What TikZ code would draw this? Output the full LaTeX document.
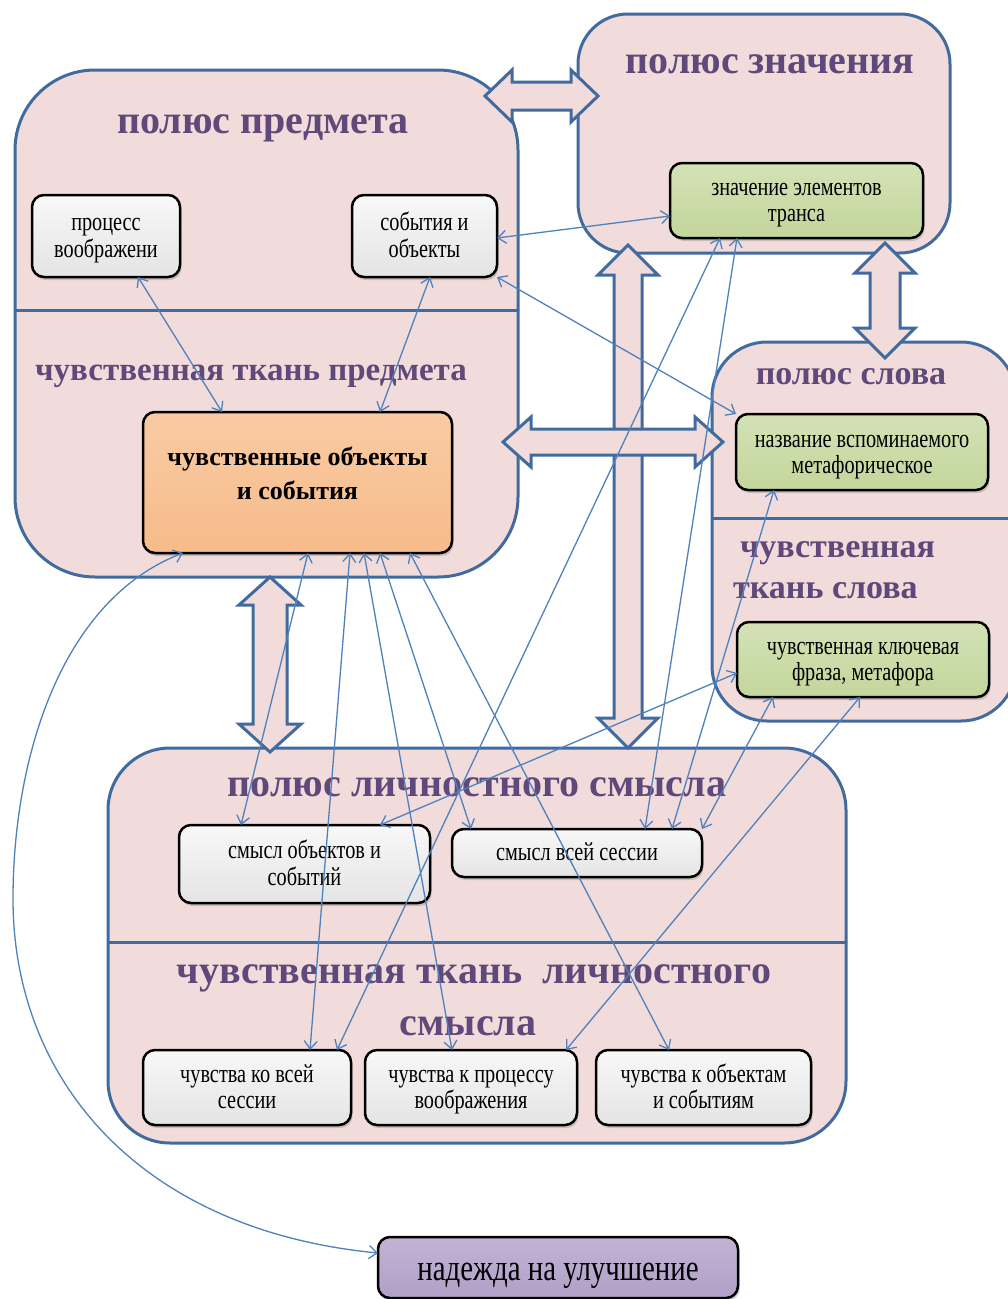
\documentclass[tikz,border=0pt]{standalone}
\usepackage{fontspec}
\setmainfont{Liberation Serif}
\newfontfamily\boxfont[FakeStretch=0.78]{Liberation Serif}
\usetikzlibrary{arrows.meta,shadows,calc}

\definecolor{panelfill}{HTML}{F2DCDB}
\definecolor{panelline}{HTML}{416B9E}
\definecolor{titlecol}{HTML}{5F497A}
\definecolor{linkcol}{HTML}{4F81BD}
\definecolor{greentop}{HTML}{D3E2B6}
\definecolor{greenbot}{HTML}{C3D69B}
\definecolor{orangetop}{HTML}{F9CBA3}
\definecolor{orangebot}{HTML}{F6BB8A}
\definecolor{purpletop}{HTML}{C2B3D4}
\definecolor{purplebot}{HTML}{B1A0C7}
\definecolor{greytop}{HTML}{F8F8F8}
\definecolor{greybot}{HTML}{E4E4E4}

\newcommand\vdblarrow[6]{\draw[blockarrow] (#1,#2) -- ({#1+#5},{#2+#4}) -- ({#1+#6},{#2+#4}) -- ({#1+#6},{#3-#4}) -- ({#1+#5},{#3-#4}) -- (#1,#3) -- ({#1-#5},{#3-#4}) -- ({#1-#6},{#3-#4}) -- ({#1-#6},{#2+#4}) -- ({#1-#5},{#2+#4}) -- cycle;}
\newcommand\hdblarrow[6]{\draw[blockarrow] (#2,#1) -- ({#2+#4},{#1-#5}) -- ({#2+#4},{#1-#6}) -- ({#3-#4},{#1-#6}) -- ({#3-#4},{#1-#5}) -- (#3,#1) -- ({#3-#4},{#1+#5}) -- ({#3-#4},{#1+#6}) -- ({#2+#4},{#1+#6}) -- ({#2+#4},{#1+#5}) -- cycle;}
\newcommand\twolines[2]{\begin{tabular}{@{}c@{}}\rule{0pt}{24pt}#1\\#2\end{tabular}}

\tikzset{
  panel/.style={draw=panelline, line width=3pt, fill=panelfill, inner sep=0pt, outer sep=0pt},
  divider/.style={draw=panelline, line width=3pt},
  blockarrow/.style={draw=panelline, line width=3pt, fill=panelfill, line join=miter},
  title/.style={text=titlecol, font=\fontsize{40}{40}\selectfont\bfseries, inner sep=0pt, anchor=base},
  subtitle/.style={title, font=\fontsize{34}{34}\selectfont\bfseries},
  box/.style={draw=black, line width=2.5pt, rounded corners=12pt, inner sep=0pt, outer sep=0pt,
    font=\boxfont\fontsize{26}{26}\selectfont,
    drop shadow={opacity=0.35, shadow xshift=1.5pt, shadow yshift=-3pt}},
  greybox/.style={box, top color=greytop, bottom color=greybot},
  greenbox/.style={box, top color=greentop, bottom color=greenbot},
  orangebox/.style={box, top color=orangetop, bottom color=orangebot, font=\fontsize{26}{34}\selectfont\bfseries,
    align=center, execute at begin node=\strut, execute at end node={\rule[-18pt]{0pt}{1pt}}},
  purplebox/.style={box, top color=purpletop, bottom color=purplebot, font=\boxfont\fontsize{37}{37}\selectfont},
  conn/.style={draw=linkcol, line width=1.3pt, {Straight Barb[length=8pt,width=13pt]}-{Straight Barb[length=8pt,width=13pt]}}
}

\begin{document}
\begin{tikzpicture}[x=1pt, y=-1pt]
\useasboundingbox (0,0) rectangle (1008,1299);
\fill[white] (0,0) rectangle (1008,1299);

% panels
\node[panel, rounded corners=80pt, minimum width=503pt, minimum height=507pt] (pPred) at (266.5,323.5) {};
\node[panel, rounded corners=50pt, minimum width=372pt, minimum height=239pt] (pZnach) at (764,133.5) {};
\node[panel, rounded corners=55pt, minimum width=304pt, minimum height=379pt] (pSlova) at (864,531.5) {};
\node[panel, rounded corners=62pt, minimum width=738pt, minimum height=395pt] (pLich) at (477,945.5) {};

% dividers
\coordinate (dPred) at (0,310);
\coordinate (dSlova) at (0,518);
\coordinate (dLich) at (0,942);
\draw[divider] (pPred.west |- dPred) -- (pPred.east |- dPred);
\draw[divider] (pSlova.west |- dSlova) -- (pSlova.east |- dSlova);
\draw[divider] (pLich.west |- dLich) -- (pLich.east |- dLich);

% titles
\node[title] (tPred) at (263,133) {полюс предмета};
\node[subtitle, font=\fontsize{33}{33}\selectfont\bfseries] (tPredS) at (251,380) {чувственная ткань предмета};
\node[title] (tZnach) at (770,73) {полюс значения};
\node[subtitle] (tSlova) at (851,384) {полюс слова};
\node[subtitle, anchor=base west] (tSlovaS1) at (740,557) {чувственная};
\node[subtitle, anchor=base west] (tSlovaS2) at (733,598) {ткань слова};
\node[title] (tLich) at (477,796) {полюс личностного смысла};
\node[title] (tLichS1) at (474,983) {чувственная ткань\ \ личностного};
\node[title] (tLichS2) at (468,1035) {смысла};

% block arrows
\hdblarrow{96}{485}{598}{27}{26}{14}
\vdblarrow{628}{245}{748}{30}{30}{14}
\vdblarrow{885}{243}{358}{30}{30}{15}
\vdblarrow{270}{577}{752}{28}{31}{17}
\hdblarrow{442}{503}{723}{28}{25}{13}

% boxes
\node[greybox, minimum width=148pt, minimum height=82pt] (proc) at (106,236) {\twolines{процесс}{воображени}};
\node[greybox, minimum width=145pt, minimum height=82pt] (sob) at (424.5,236) {\twolines{события и}{объекты}};
\node[orangebox, minimum width=309pt, minimum height=141pt] (orange) at (297.5,482.5) {чувственные объекты\\и события};
\node[greenbox, minimum width=253pt, minimum height=75pt] (znachEl) at (796.5,200.5) {\twolines{значение элементов}{транса}};
\node[greenbox, minimum width=252pt, minimum height=76pt] (nazv) at (862,452) {\twolines{название вспоминаемого}{метафорическое}};
\node[greenbox, minimum width=252pt, minimum height=75pt] (klyuch) at (863,659.5) {\twolines{чувственная ключевая}{фраза, метафора}};
\node[greybox, minimum width=251pt, minimum height=78pt] (smObj) at (304.5,864) {\twolines{смысл объектов и}{событий}};
\node[greybox, minimum width=250pt, minimum height=48pt, execute at begin node={\rule{0pt}{22pt}}, execute at end node=\strut] (smVsei) at (577,853) {смысл всей сессии};
\node[greybox, minimum width=208pt, minimum height=75pt] (chKo) at (247,1087.5) {\twolines{чувства ко всей}{сессии}};
\node[greybox, minimum width=212pt, minimum height=75pt] (chProc) at (471,1087.5) {\twolines{чувства к процессу}{воображения}};
\node[greybox, minimum width=215pt, minimum height=75pt] (chObj) at (703.5,1087.5) {\twolines{чувства к объектам}{и событиям}};
\node[purplebox, minimum width=360pt, minimum height=61pt, execute at begin node={\rule{0pt}{38pt}}, execute at end node=\strut] (hope) at (558,1267.5) {надежда на улучшение};

% connectors
\draw[conn] (proc.south -| 138,0) -- (orange.north -| 222,0);
\draw[conn] (sob.south -| 430,0) -- (orange.north -| 380,0);
\draw[conn] (sob.east |- 0,238) -- (znachEl.west |- 0,216);
\draw[conn] (sob.south east) -- (nazv.north west);
\draw[conn] (orange.south -| 183,0) .. controls (60,600) and (13,760) .. (13,899)
   .. controls (13,1080) and (140,1230) .. (hope.west |- 0,1253);
\draw[conn] (orange.south -| 308,0) -- (smObj.north -| 241,0);
\draw[conn] (orange.south -| 350,0) -- (chKo.north -| 310,0);
\draw[conn] (orange.south -| 364,0) -- (chProc.north -| 452,0);
\draw[conn] (orange.south -| 380,0) -- (smVsei.north -| 471,0);
\draw[conn] (orange.south -| 410,0) -- (chObj.north -| 669,0);
\draw[conn] (znachEl.south -| 720,0) -- (chKo.north -| 337,0);
\draw[conn] (znachEl.south -| 737,0) -- (smVsei.north -| 645,0);
\draw[conn] (nazv.south -| 774,0) -- (smVsei.north -| 672,0);
\draw[conn] (klyuch.south -| 773,0) -- (smVsei.north east);
\draw[conn] (klyuch.west |- 0,673) -- (smObj.north -| 380,0);
\draw[conn] (klyuch.south -| 860,0) -- (chProc.north -| 566,0);
\end{tikzpicture}
\end{document}
